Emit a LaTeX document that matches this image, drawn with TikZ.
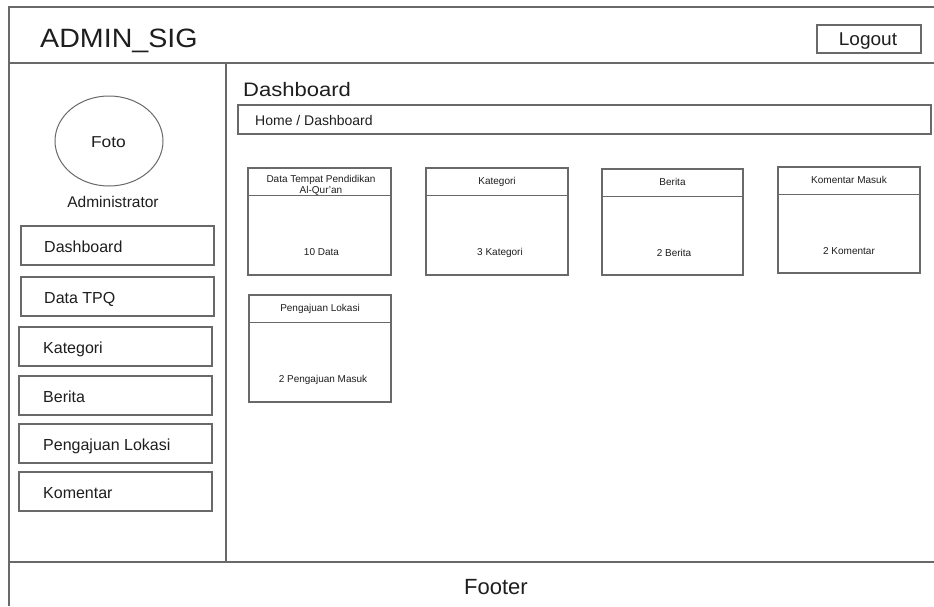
\documentclass[tikz,border=0pt]{standalone}
\usepackage{fontspec}
\setmainfont{Liberation Sans}
\usetikzlibrary{shapes.geometric}
\definecolor{linegray}{RGB}{105,105,105}
\definecolor{txt}{RGB}{30,30,30}
\begin{document}
\begin{tikzpicture}[x=1pt,y=-1pt,
  frameline/.style={draw=linegray,line width=1.3pt},
  box/.style={draw=linegray,line width=1.2pt,rectangle,inner sep=0pt,fill=white},
  menubox/.style={box,minimum width=193pt,minimum height=39pt},
  card/.style={box,minimum width=142pt,minimum height=107pt},
  menutext/.style={anchor=base west,inner sep=0pt,text=txt,font=\fontsize{16}{18}\selectfont},
  cardtitle/.style={anchor=base,inner sep=0pt,text=txt,font=\fontsize{10}{9}\selectfont,align=center},
  cardvalue/.style={anchor=base,inner sep=0pt,text=txt,font=\fontsize{10}{12}\selectfont}]
\useasboundingbox (0,0) rectangle (934,606);
\fill[white] (0,0) rectangle (934,606);

% frame
\coordinate (tl) at (9,7);
\coordinate (tr) at (934,7);
\coordinate (bl) at (9,606);
\coordinate (hl) at (9,63);
\coordinate (hr) at (934,63);
\coordinate (fl) at (9,562);
\coordinate (fr) at (934,562);
\coordinate (dtop) at (226,63);
\coordinate (dbot) at (226,562);
\draw[frameline] (tr) -- (tl) -- (bl);
\draw[frameline] (hl) -- (hr);
\draw[frameline] (fl) -- (fr);
\draw[frameline] (dtop) -- (dbot);

% header
\node[anchor=base west,inner sep=0pt,text=txt,font=\fontsize{26.5}{30}\selectfont] (title) at (40,47) {\scalebox{1.08}[1]{ADMIN\_SIG}};
\node[box,minimum width=104pt,minimum height=28pt] (logout) at (869,39) {};
\node[anchor=base,inner sep=0pt,text=txt,font=\fontsize{18.5}{20}\selectfont] (logouttext) at (868,45.5) {\scalebox{1.03}[1]{Logout}};

% sidebar
\node[draw=linegray,line width=1pt,ellipse,minimum width=108pt,minimum height=90pt,inner sep=0pt] (foto) at (109,141) {};
\node[anchor=base,inner sep=0pt,text=txt,font=\fontsize{15.8}{18}\selectfont] (fototext) at (108.5,147.5) {\scalebox{1.1}[1]{Foto}};
\node[anchor=base,inner sep=0pt,text=txt,font=\fontsize{15.5}{18}\selectfont] (admin) at (113,207) {Administrator};

\node[menubox] (m1) at (117.5,245.5) {};
\node[menubox] (m2) at (117.5,296.5) {};
\node[menubox] (m3) at (115.5,346.5) {};
\node[menubox] (m4) at (115.5,395.5) {};
\node[menubox] (m5) at (115.5,443.5) {};
\node[menubox] (m6) at (115.5,491.5) {};
\node[menutext] (t1) at (44,252) {Dashboard};
\node[menutext] (t2) at (44,303) {Data TPQ};
\node[menutext] (t3) at (43,353) {Kategori};
\node[menutext] (t4) at (43,402) {Berita};
\node[menutext] (t5) at (43,450) {Pengajuan Lokasi};
\node[menutext] (t6) at (43,498.5) {Komentar};

% content
\node[anchor=base west,inner sep=0pt,text=txt,font=\fontsize{19.5}{22}\selectfont] (dash) at (243,96) {\scalebox{1.13}[1]{Dashboard}};
\node[box,minimum width=693pt,minimum height=29pt] (crumb) at (584.5,119.5) {};
\node[anchor=base west,inner sep=0pt,text=txt,font=\fontsize{14}{16}\selectfont] (crumbtext) at (255,125) {Home / Dashboard};

% cards
\node[card,minimum width=143pt] (c1) at (319.5,221.5) {};
\node[card] (c2) at (497,221.5) {};
\node[card,minimum width=141pt,minimum height=106pt] (c3) at (672.5,222) {};
\node[card,minimum height=106pt] (c4) at (849,220) {};
\node[card] (c5) at (320,348.5) {};
\foreach \c in {c1,c2,c3,c4,c5}{
  \draw[draw=linegray,line width=1.2pt] ([yshift=-28pt]\c.north west) -- ([yshift=-28pt]\c.north east);
}
\node[cardtitle] (h1) at (321,193) {Data Tempat Pendidikan\\Al-Qur'an};
\node[cardtitle] (h2) at (497,184) {Kategori};
\node[cardtitle] (h3) at (672.5,185) {Berita};
\node[cardtitle] (h4) at (849,183) {Komentar Masuk};
\node[cardtitle] (h5) at (320,311) {Pengajuan Lokasi};

\node[cardvalue] (v1) at (321.5,255.5) {10 Data};
\node[cardvalue] (v2) at (500,255.5) {3 Kategori};
\node[cardvalue] (v3) at (674,256) {2 Berita};
\node[cardvalue] (v4) at (849,254.5) {2 Komentar};
\node[cardvalue] (v5) at (323,382) {2 Pengajuan Masuk};

% footer
\node[anchor=base,inner sep=0pt,text=txt,font=\fontsize{22}{24}\selectfont] (footer) at (496,594) {Footer};
\end{tikzpicture}
\end{document}
